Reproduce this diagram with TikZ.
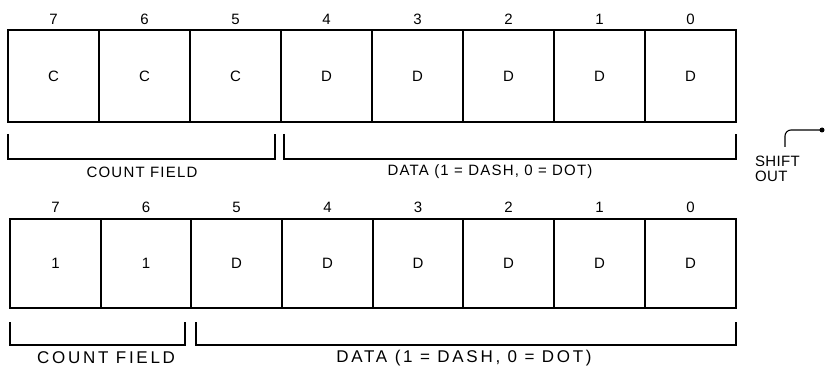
\documentclass[tikz,border=0pt]{standalone}
\usepackage{fontspec}
\setmainfont{Liberation Sans}[LetterSpace=8]
\newfontfamily\wideface{Liberation Sans}[LetterSpace=16]
\newfontfamily\plainface{Liberation Sans}[LetterSpace=2]
\begin{document}
\begin{tikzpicture}[x=1pt,y=-1pt,
  bitbox/.style={draw, line width=1.6pt, inner sep=0pt, font=\fontsize{15}{17}\selectfont},
  num/.style={inner sep=0pt, font=\fontsize{15}{17}\selectfont},
  lbl/.style={inner sep=0pt, font=\fontsize{15}{17}\selectfont},
  lblb/.style={inner sep=0pt, font=\wideface\fontsize{17}{19}\selectfont},
  brk/.style={draw, line width=1.1pt}]
\useasboundingbox (0,0) rectangle (825,366);
% top register
\foreach \l/\r/\t/\c [count=\i] in {8/99/7/C,99/190/6/C,190/281/5/C,281/372/4/D,372/463/3/D,463/554/2/D,554/645/1/D,645/736/0/D}{
  \node[bitbox, minimum width={(\r-\l)*1pt}, minimum height=92pt] (a\i) at ({(\l+\r)/2},76) {\c};
  \node[num] (na\i) at ({(\l+\r)/2},19) {\t};
}
% bottom register
\foreach \l/\r/\t/\c [count=\i] in {10/101/7/1,101/191/6/1,191/282/5/D,282/373/4/D,373/463/3/D,463/554/2/D,554/645/1/D,645/736/0/D}{
  \node[bitbox, minimum width={(\r-\l)*1pt}, minimum height=89pt] (b\i) at ({(\l+\r)/2},263.5) {\c};
  \node[num] (nb\i) at ({(\l+\r)/2},207) {\t};
}
% brackets top
\draw[brk] (8,134) |- (275,159) -- (275,134);
\draw[brk] (284,134) |- (736,159) -- (736,134);
\node[lbl] (cf1) at (142,172) {COUNT FIELD};
\node[lbl] (df1) at (490,172) {DATA (1 = DASH, 0 = DOT)};
% brackets bottom
\draw[brk] (10,322) |- (185,345) -- (185,322);
\draw[brk] (196,322) |- (736,345) -- (736,322);
\node[lblb, anchor=west] (cf2) at (37,358) {COUNT FIELD};
\node[lblb] (df2) at (464,358) {DATA (1 = DASH, 0 = DOT)};
% shift out
\node[inner sep=0pt, align=left, anchor=north west, font=\plainface\fontsize{15}{15}\selectfont] (so) at (755,156) {SHIFT\\OUT};
\coordinate (soin) at (785,147);
\node[circle, fill, inner sep=0pt, minimum size=5pt] (dot) at (822,130) {};
\draw[line width=1.1pt, rounded corners=6pt] (soin) |- (dot.center);
\end{tikzpicture}
\end{document}
